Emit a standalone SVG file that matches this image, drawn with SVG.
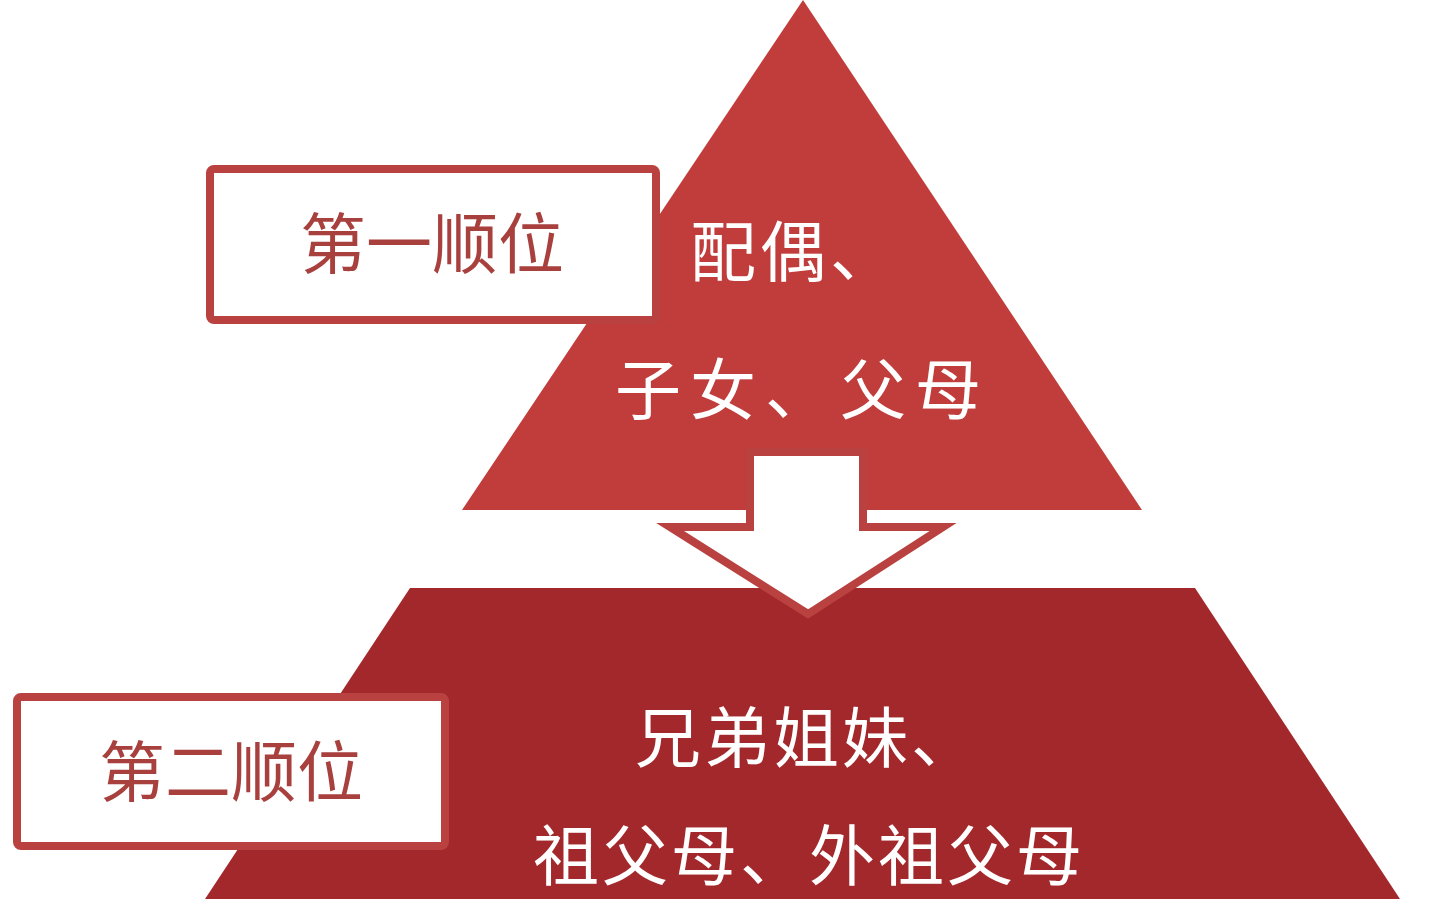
<svg xmlns="http://www.w3.org/2000/svg" width="1450" height="899" viewBox="0 0 1450 899">
<style>
.w{fill:#fff;font-family:"Noto Sans CJK SC",sans-serif;font-size:66px}
.r{fill:#a8403e;font-family:"Noto Sans CJK SC",sans-serif;font-size:66px;text-anchor:middle}
.box{fill:#fff;stroke:#b9413f;stroke-width:8}
</style>
<rect width="1450" height="899" fill="#fff"/>
<g id="top"><polygon points="803,0 1142,510 462,510" fill="#c03d3b"/>
<text class="w" x="690" y="276" letter-spacing="4">配偶、</text>
<text class="w" x="615" y="414" letter-spacing="9">子女、父母</text></g>
<g id="bottom"><polygon points="410,588 1195,588 1400,899 205,899" fill="#a3282b"/>
<text class="w" x="635" y="762" letter-spacing="3">兄弟姐妹、</text>
<text class="w" x="533" y="880" letter-spacing="3">祖父母、外祖父母</text></g>
<g id="connectors"><polygon points="750,452 863,452 863,527 943,527 808,614 670,527 750,527" fill="#fff" stroke="#b9413f" stroke-width="8"/></g>
<g id="box1"><rect class="box" x="210" y="169" width="446" height="151" rx="4"/><text class="r" x="432" y="268">第一顺位</text></g>
<g id="box2"><rect class="box" x="17" y="697" width="428" height="149" rx="4"/><text class="r" x="231" y="796">第二顺位</text></g>
</svg>
